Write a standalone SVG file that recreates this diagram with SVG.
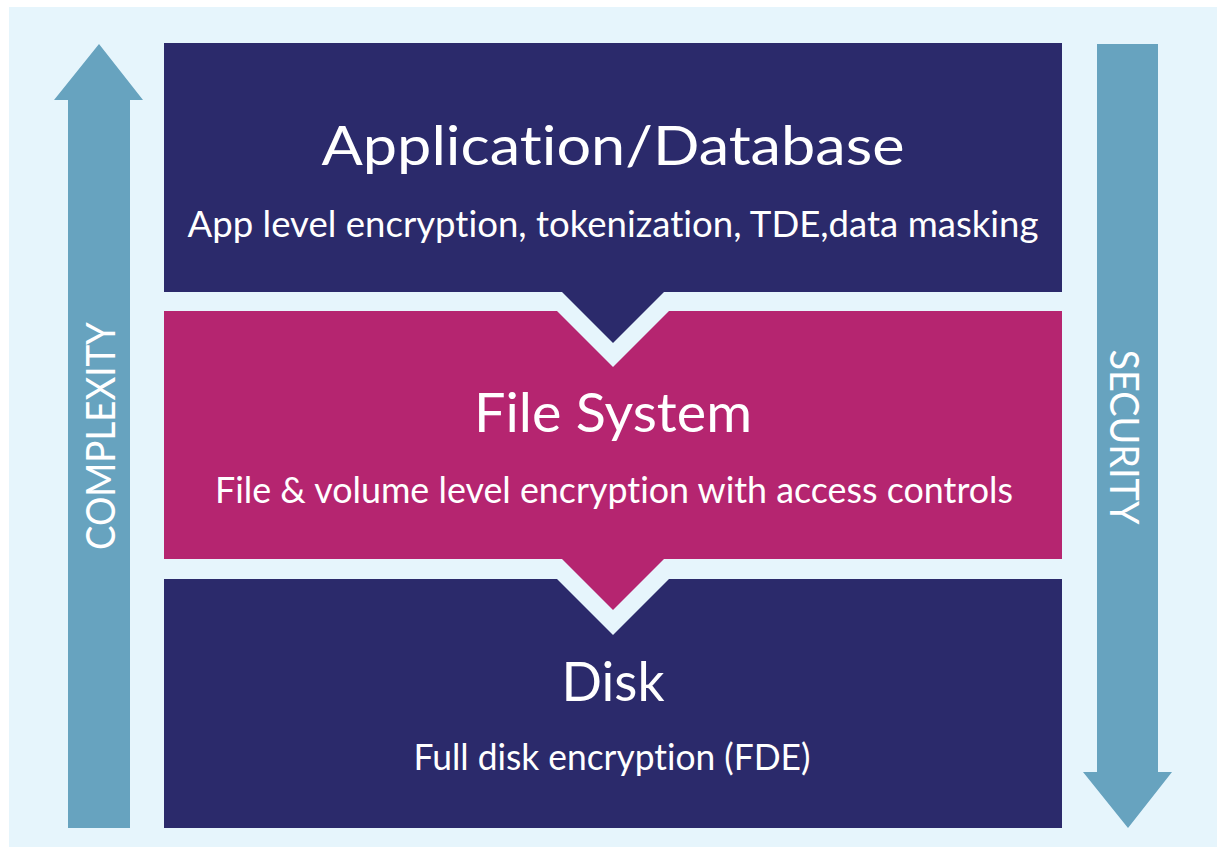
<svg xmlns="http://www.w3.org/2000/svg" width="1222" height="847" viewBox="0 0 1222 847">
<style>
.t{font-family:Lato,"Liberation Sans",sans-serif;fill:#ffffff;text-anchor:middle;font-variant-ligatures:none;font-feature-settings:"liga" 0}
.h{font-size:54px}
.s{font-size:36px}
.v{font-size:40px}
.navy{fill:#2B2A6B}
.mag{fill:#B52570}
.arr{fill:#67A3BF}
</style>
<rect x="0" y="0" width="1222" height="847" fill="#ffffff"/>
<rect x="9" y="7" width="1208" height="840" fill="#E6F5FC"/>
<g id="complexity-arrow">
<polygon class="arr" points="99,44 143,100 130,100 130,828 68,828 68,100 54,100"/>
<text class="t v" transform="translate(115,436) rotate(-90)" textLength="228" lengthAdjust="spacingAndGlyphs">COMPLEXITY</text>
</g>
<g id="security-arrow">
<polygon class="arr" points="1097,44 1158,44 1158,772 1172,772 1128,828 1083,772 1097,772"/>
<text class="t v" transform="translate(1110,437) rotate(90)" textLength="175" lengthAdjust="spacingAndGlyphs">SECURITY</text>
</g>
<g id="application-database">
<polygon class="navy" points="164,43 1062,43 1062,292 664,292 613,343 562,292 164,292"/>
<text class="t h" x="613" y="165" textLength="583" lengthAdjust="spacingAndGlyphs">Application/Database</text>
<text class="t s" x="613" y="237" textLength="851" lengthAdjust="spacingAndGlyphs">App level encryption, tokenization, TDE,data masking</text>
</g>
<g id="file-system">
<polygon class="mag" points="164,311 557,311 613,367 669,311 1062,311 1062,559 664,559 613,610 562,559 164,559"/>
<text class="t h" x="613" y="432" textLength="278" lengthAdjust="spacingAndGlyphs">File System</text>
<text class="t s" x="614" y="503" textLength="798" lengthAdjust="spacingAndGlyphs">File &amp; volume level encryption with access controls</text>
</g>
<g id="disk">
<polygon class="navy" points="164,579 557,579 613,635 669,579 1062,579 1062,828 164,828"/>
<text class="t h" x="613" y="701" textLength="103" lengthAdjust="spacingAndGlyphs">Disk</text>
<text class="t s" x="612" y="770" textLength="397" lengthAdjust="spacingAndGlyphs">Full disk encryption (FDE)</text>
</g>
<g id="connectors"></g>
</svg>
